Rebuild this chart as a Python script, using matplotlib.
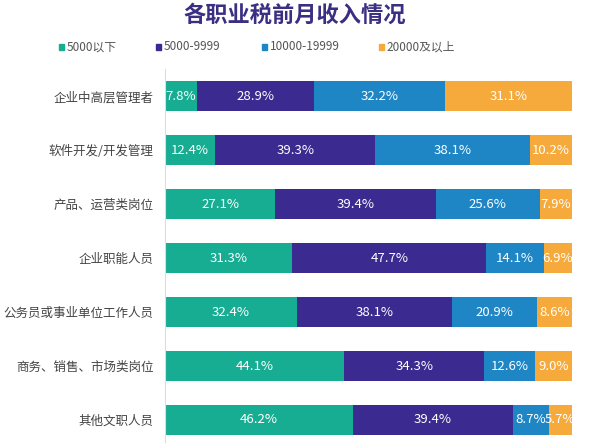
import matplotlib.pyplot as plt
import numpy as np

plt.rcParams['font.family'] = ['Noto Sans CJK SC', 'DejaVu Sans']

categories = ['企业中高层管理者', '软件开发/开发管理', '产品、运营类岗位', '企业职能人员',
              '公务员或事业单位工作人员', '商务、销售、市场类岗位', '其他文职人员']
series_names = ['5000以下', '5000-9999', '10000-19999', '20000及以上']
below_5000 = [7.8, 12.4, 27.1, 31.3, 32.4, 44.1, 46.2]
from_5000 = [28.9, 39.3, 39.4, 47.7, 38.1, 34.3, 39.4]
from_10000 = [32.2, 38.1, 25.6, 14.1, 20.9, 12.6, 8.7]
above_20000 = [31.1, 10.2, 7.9, 6.9, 8.6, 9.0, 5.7]
colors = ['#17ad93', '#3b2a8f', '#1f86c6', '#f6aa3c']

fig = plt.figure(figsize=(5.89, 4.43), dpi=100)
fig.set_facecolor('white')
ax = fig.add_axes([0.28, -0.009, 0.691, 0.853])

y = np.arange(len(categories))
left = np.zeros(len(categories))
for name, vals, c in zip(series_names, [below_5000, from_5000, from_10000, above_20000], colors):
    vals = np.array(vals)
    ax.barh(y, vals, left=left, height=0.56, color=c, label=name)
    for yi, l, v in zip(y, left, vals):
        ax.text(l + v / 2, yi, f'{v:.1f}%', ha='center', va='center',
                color='white', fontsize=9.5)
    left += vals

ax.set_xlim(0, 100)
ax.set_ylim(len(categories) - 0.5, -0.5)
ax.set_yticks(y)
ax.set_yticklabels(categories, fontsize=9, color='#444444')
ax.set_xticks([])
ax.tick_params(axis='y', length=0, pad=8)
for s in ['top', 'right', 'bottom']:
    ax.spines[s].set_visible(False)
ax.spines['left'].set_color('#dddddd')

fig.text(0.5, 0.966, '各职业税前月收入情况', ha='center', va='center',
         fontsize=16, fontweight='bold', color='#3a2f82')

leg_x = [0.100, 0.265, 0.445, 0.643]
for x, name, c in zip(leg_x, series_names, colors):
    fig.patches.append(plt.Rectangle((x, 0.888), 0.009, 0.012, color=c,
                                     transform=fig.transFigure, figure=fig))
    fig.text(x + 0.013, 0.894, name, ha='left', va='center', fontsize=8.5,
             color='#555555')

fig.savefig('out.png', dpi=100)
